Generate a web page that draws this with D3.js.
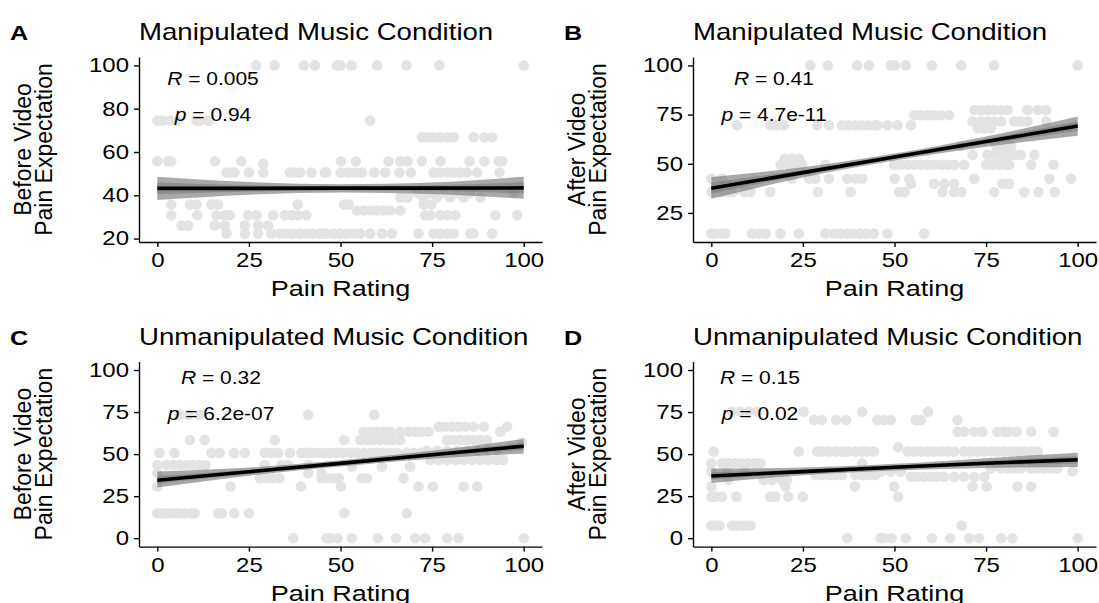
<!DOCTYPE html>
<html>
<head>
<meta charset="utf-8">
<script src="https://cdn.jsdelivr.net/npm/d3@7"></script>
<style>
  body { margin: 0; background: #fff; }
  svg { display: block; font-family: "Liberation Sans", Arial, sans-serif; }
</style>
</head>
<body>
<svg id="chart" width="1099" height="603"></svg>
<script>
// ---- values ----
const xTicks = [0, 25, 50, 75, 100];
const yTicksA = [20, 40, 60, 80, 100];
const yTicksB = [25, 50, 75, 100];
const yTicksCD = [0, 25, 50, 75, 100];
const yLimitTop = 100;

const panelLetters = ["A", "B", "C", "D"];
const panelTitles = ["Manipulated Music Condition", "Manipulated Music Condition",
  "Unmanipulated Music Condition", "Unmanipulated Music Condition"];
const yTitles = [["Before Video", "Pain Expectation"], ["After Video", "Pain Expectation"],
  ["Before Video", "Pain Expectation"], ["After Video", "Pain Expectation"]];
const xTitle = "Pain Rating";
const rValues = ["0.005", "0.41", "0.32", "0.15"];
const pValues = ["0.94", "4.7e-11", "6.2e-07", "0.02"];

// points grouped by expectation level: [expectation, [pain ratings]]
const pointsA = [
  [100, [27, 32, 40, 43, 49, 50, 53, 60, 68, 77, 100]],
  [74.5, [0, 1.5, 3.5, 5.5, 10.7, 11.8, 14, 58.1]],
  [66.8, [72.2, 73.6, 75.4, 77.2, 79.1, 80.9, 86.3, 89.3, 91.4]],
  [55.7, [0, 2.9, 3.8, 15.8, 22.9, 50.1, 54.2, 63.1, 66.3, 68.3, 72.2, 77.3, 85.2, 89.3, 93.2, 94.1]],
  [54.5, [28.9]],
  [50.5, [18.9, 20.2, 21.1, 25, 28.9, 36.2, 37.5, 38.9, 42.1, 45.7, 46.1, 50.1, 52.2, 54, 55.8, 59.2,
    62.2, 66.1, 69.2, 75.4, 77.2, 79.1, 80.9, 82.7, 84.5, 87.3, 93.4]],
  [41, [70.9, 74.5, 78.1, 81.8, 85.4, 97.3]],
  [39, [68.3, 72.7, 76.3, 79.9, 83.6, 88.2, 66.3]],
  [35.7, [3.8, 8.9, 10.7, 14.8, 16.6, 38.3, 51, 52.2, 72.7, 74.8]],
  [33, [54.5, 56.3, 58.1, 59.9, 61.7, 63.6, 66.3]],
  [30.8, [3.8, 10.9, 16.1, 18.4, 19.8, 24.8, 27.1, 31.6, 34.8, 36.6, 38.4, 40.7, 73.1, 74.5, 77.2,
    79.1, 81.3, 92.3, 98.2]],
  [26, [6.6, 8.4, 15.7, 18.4, 23.9, 27.5, 30.2]],
  [22.3, [18.9, 23.9, 27.5, 31.1, 33.4, 35.2, 37, 38.8, 40.6, 42.4, 44.3, 46.1, 45.4, 48.1, 49.9,
    51.7, 53.6, 55.4, 58.1, 61.3, 64, 71.3, 75.4, 77.2, 79.1, 80.9, 85.4, 86.3, 91.4]]
];
const pointsB = [
  [100, [27, 31.8, 39.8, 43, 49, 50.1, 53.1, 60.2, 68.2, 77.2, 100]],
  [77.3, [71.8, 73.6, 75.4, 77.2, 79.1, 80.9, 86.3, 89.1, 91.4]],
  [74.7, [55.4, 57.2, 59, 60.8, 62.7, 64.9]],
  [71.5, [71.3, 73.6, 75.4, 77.2, 79.1, 82.7, 84.5, 86.3, 91.4]],
  [69.6, [7, 16.1, 18, 19.8, 28.9, 32.1, 35.7, 37.5, 39.3, 41.2, 43, 44.8, 45.4, 48.1, 50.8, 54.5]],
  [68, [72.7, 74.5, 76.3]],
  [59, [68.1, 77.7, 79.1, 80.4, 81.8]],
  [54.5, [71.3, 75.4, 77.2, 79.1, 80.9, 82.7, 84.5, 88.2]],
  [52.5, [20, 22, 24]],
  [49.5, [18.9, 21.1, 22.9, 24.8, 31.1, 49.9, 51.7, 53.6, 55.4, 57.2, 59, 60.8, 62.7, 64.5, 66.3,
    69, 75, 76.8, 78.6, 80.4, 81.3, 87.3, 93.4]],
  [42.4, [0, 2.9, 22, 26.6, 28.4, 32.1, 37.1, 39.3, 41.2, 50.1, 54, 71.8, 92.3, 98.2]],
  [39.8, [8.9, 54.5, 60.8, 63.6, 66.3, 79.5, 81.3]],
  [35.6, [0, 2.9, 4.5, 6, 8.9, 10.7, 16.1, 29.1, 38, 51.3, 52.7, 63.1, 66.3, 68.3, 77.2, 85.4, 89.3, 93.7]],
  [14.5, [0, 1.1, 2.9, 3.8, 11.1, 12.9, 14.8, 18.9, 23.9, 31.1, 33.4, 35.2, 37, 38.8, 40.6, 42.4,
    44.4, 48.1, 58.1]]
];
const pointsC = [
  [73.3, [6, 8.5, 11.5, 41.2, 59.2]],
  [66.3, [76.8, 78.6, 80.4, 82.2, 84.1, 86.3, 89.1, 95.5]],
  [63.3, [56.3, 58.1, 59.9, 61.7, 63.6, 66.3, 68.6, 70.4, 72.2, 74, 93.6]],
  [58.4, [8.9, 12.9, 32.1, 51, 55.4, 57.2, 59, 60.8, 62.7, 64.5, 66.3, 79.1, 80.9, 82.7, 84.5, 86.3, 88.2, 90]],
  [57, [99.5]],
  [52, [73.6, 76.3, 79.1, 81.8, 84.5, 87.3, 90, 92.7]],
  [50.7, [0.6, 4.7, 14.8, 17, 21, 23.9, 29.3, 31.1, 33, 36.2, 39.3, 40.6, 42, 43.8, 45.4, 47.2, 49,
    50.8, 52.7, 54.5, 56.3, 58.1, 59.9, 61.7, 63.6, 65.4, 68.1, 69.9, 71.8]],
  [46.5, [74.5, 76.8, 79.1, 81.3, 83.6, 85.9, 88.2, 90.4, 92.7, 94.4]],
  [43.5, [0, 2.5, 4.3, 6.1, 7.9, 9.7, 11.5, 13.1, 29.3, 33.9, 35.7, 41.2]],
  [42.5, [53.1, 61.3, 69]],
  [38.6, [0, 41.2, 44.8]],
  [35.6, [28, 29.8, 31.6, 33.4, 44.8, 46.3, 48.1, 49.5, 55.8, 57.2, 67.2]],
  [30.7, [0, 20, 39.2, 50.1, 71.3, 75.2, 83.6, 87.3]],
  [14.8, [0, 1.2, 2.6, 4.3, 5.7, 7.5, 9.3, 10.2, 16.6, 17.7, 21, 25, 51, 68.1]],
  [0, [37.1, 46.2, 47.2, 49.2, 53.1, 60.2, 65.2, 70.4, 73.1, 79.1, 82.2, 100]]
];
const pointsD = [
  [75.2, [5.7, 7.9, 10.2, 12.5, 25.2, 41.2, 59.2]],
  [70.3, [28, 30.2, 34.1, 36.8, 45.3, 47.2, 49, 55.8, 57.2, 67.2]],
  [63.3, [67.2, 69, 71.8, 74, 78.1, 80, 81.3, 83.4, 87.3, 93.4]],
  [54, [51]],
  [51.5, [0.6, 23.9, 28.9, 30.2, 32.1, 33.9, 35.7, 37.1, 39.3, 41.2, 42.5, 44.4, 53.6, 55.4, 57.2,
    59, 60.8, 62.7, 64.5, 66.3, 69, 70.8, 72.7, 74.5, 76.3, 78.1, 80, 81.8, 83.6, 85.4, 87.3, 89.1]],
  [44.6, [0, 2.9, 4.7, 6.5, 8.3, 10.1, 11.9, 13.4, 41.2]],
  [41.5, [76.3, 79.1, 80.9, 82.7, 84.5, 87.3, 89.1, 90.9, 92.7, 94.5]],
  [39.6, [0, 4.3, 8.9, 44.5, 46.3, 49, 51.7, 98.6]],
  [37.5, [28.4, 30.2, 32.1, 33.9, 35.7, 39.3, 41.2, 43, 44.8]],
  [36.5, [54.5, 56.3, 58.1, 59.9, 61.7, 63.6, 66.3, 69, 71.8, 74.5]],
  [34.6, [4.7, 14.3, 16.6, 19.3, 20.7]],
  [30.7, [0, 20.2, 39.2, 49.9, 71.3, 75.2, 83.6, 87.3]],
  [24.7, [0, 1.1, 2.9, 6.8, 16.1, 17.5, 21, 25, 51]],
  [7.5, [0, 1.1, 2.2, 5.7, 7, 8.4, 9.7, 10.7, 68.3]],
  [0, [37.1, 46.2, 47.2, 49.2, 53.1, 60.2, 65.2, 70.4, 73.1, 79.1, 82.2, 100]]
];

// regression line and confidence band, read at these pain ratings
const fitX = [0, 25, 50, 75, 100];
const fitA = [43.2, 43.2, 43.3, 43.3, 43.4];
const lowA = [37.8, 40.3, 41.3, 40.6, 38.4];
const highA = [48.6, 46.1, 45.1, 45.9, 48.6];
const fitB = [37.6, 45.5, 53.4, 61.3, 69.2];
const lowB = [32.2, 43.0, 51.6, 58.6, 64.2];
const highB = [43.3, 48.2, 55.2, 63.9, 74.0];
const fitC = [34.5, 39.5, 44.5, 49.6, 54.7];
const lowC = [30.2, 37.2, 42.7, 47.3, 50.3];
const highC = [39.6, 42.0, 46.3, 52.0, 59.0];
const fitD = [37.0, 39.6, 42.2, 44.6, 46.6];
const lowD = [32.8, 37.4, 40.2, 41.8, 42.3];
const highD = [41.4, 42.0, 44.2, 47.6, 50.8];

// ---- layout ----
const panelW = 403, panelH = 185;
const stretch = 1.2; // the figure's horizontal lettering is wide
const panels = [
  { left: 139, top: 57, yTicks: yTicksA, pts: pointsA, fit: fitA, low: lowA, high: highA, labelX: 74, labelY: 28 },
  { left: 693, top: 57, yTicks: yTicksB, pts: pointsB, fit: fitB, low: lowB, high: highB, labelX: 81, labelY: 28 },
  { left: 139, top: 361.6, yTicks: yTicksCD, pts: pointsC, fit: fitC, low: lowC, high: highC, labelX: 82, labelY: 22 },
  { left: 693, top: 361.6, yTicks: yTicksCD, pts: pointsD, fit: fitD, low: lowD, high: highD, labelX: 67, labelY: 22 }
];

const svg = d3.select("#chart");

function wideText(g, x, y, size) {
  return g.append("text")
    .attr("transform", `translate(${x},${y}) scale(${stretch},1)`)
    .attr("font-size", size);
}

panels.forEach((p, i) => {
  const data = p.pts.flatMap(([y, xs]) => xs.map(x => ({ x, y })));
  const lo = d3.min(data, d => d.y);
  const hi = Math.max(d3.max(data, d => d.y), yLimitTop);
  const pad = (hi - lo) * 0.05;

  const x = d3.scaleLinear().domain([-5, 105]).range([p.left, p.left + panelW]);
  const y = d3.scaleLinear().domain([lo - pad, hi + pad]).range([p.top + panelH, p.top]);

  const g = svg.append("g").attr("class", "panel-" + panelLetters[i]);

  // points
  g.append("g")
    .selectAll("circle")
    .data(data)
    .join("circle")
    .attr("cx", d => x(d.x))
    .attr("cy", d => y(d.y))
    .attr("r", 5.3)
    .attr("fill", "#e3e3e3");

  // confidence band (outer + inner, as in the figure)
  const band = fitX.map((v, j) => ({ x: v, fit: p.fit[j], lo: p.low[j], hi: p.high[j] }));
  const area = d3.area().x(d => x(d.x)).y0(d => y(d.lo)).y1(d => y(d.hi)).curve(d3.curveMonotoneX);
  const inner = d3.area().x(d => x(d.x))
    .y0(d => y((d.lo + d.fit) / 2)).y1(d => y((d.hi + d.fit) / 2)).curve(d3.curveMonotoneX);
  g.append("path").datum(band).attr("d", area).attr("fill", "#747474").attr("opacity", 0.62);
  g.append("path").datum(band).attr("d", inner).attr("fill", "#747474").attr("opacity", 0.5);

  // regression line
  g.append("path")
    .datum(band)
    .attr("d", d3.line().x(d => x(d.x)).y(d => y(d.fit)))
    .attr("fill", "none")
    .attr("stroke", "#000")
    .attr("stroke-width", 3.6);

  // axes
  const xAxis = g.append("g")
    .attr("transform", `translate(0,${p.top + panelH})`)
    .call(d3.axisBottom(x).tickValues(xTicks).tickSize(5).tickSizeOuter(0).tickPadding(6));
  const yAxis = g.append("g")
    .attr("transform", `translate(${p.left},0)`)
    .call(d3.axisLeft(y).tickValues(p.yTicks).tickSize(5).tickSizeOuter(0).tickPadding(5));
  [xAxis, yAxis].forEach(a => {
    a.attr("font-family", null).attr("font-size", 20);
    a.select(".domain").attr("stroke", "#000").attr("stroke-width", 1.4);
    a.selectAll(".tick line").attr("stroke", "#000").attr("stroke-width", 1.4);
    a.selectAll(".tick text").attr("fill", "#000")
      .attr("x", function () { return +d3.select(this).attr("x") / stretch; })
      .attr("transform", `scale(${stretch},1)`);
  });

  // correlation labels
  const cx = p.left + p.labelX;
  const rText = wideText(g, cx, p.top + p.labelY, 17.5).attr("text-anchor", "middle");
  rText.append("tspan").attr("font-style", "italic").text("R");
  rText.append("tspan").text(" = " + rValues[i]);
  const pText = wideText(g, cx, p.top + p.labelY + 36, 17.5).attr("text-anchor", "middle");
  pText.append("tspan").attr("font-style", "italic").text("p");
  pText.append("tspan").text(" = " + pValues[i]);

  // titles
  wideText(g, p.left, p.top - 17, 23).text(panelTitles[i]);
  wideText(g, p.left - 129, p.top - 17, 21).attr("font-weight", "bold").text(panelLetters[i]);
  wideText(g, p.left + panelW / 2, p.top + panelH + 54, 22.5)
    .attr("text-anchor", "middle").text(xTitle);
  yTitles[i].forEach((t, k) => {
    g.append("text")
      .attr("transform", `translate(${p.left - 108 + k * 21},${p.top + panelH / 2}) rotate(-90)`)
      .attr("text-anchor", "middle").attr("font-size", 23).text(t);
  });
});
</script>
</body>
</html>
